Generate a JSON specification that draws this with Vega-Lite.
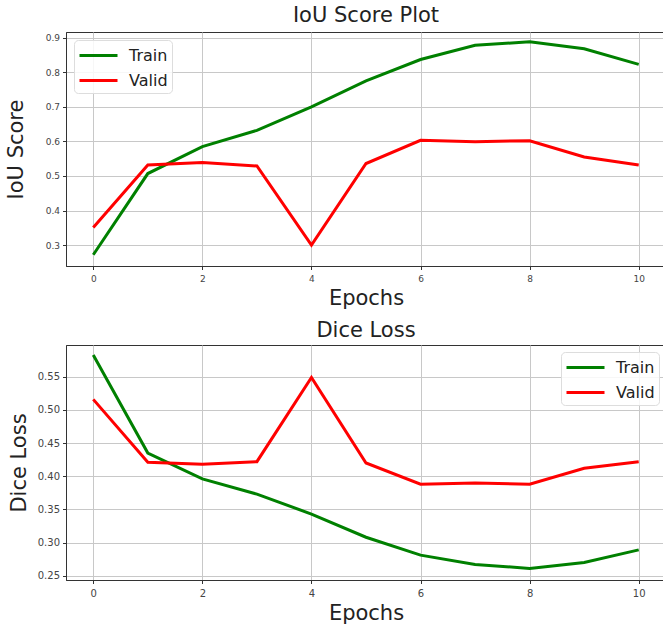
{
  "$schema": "https://vega.github.io/schema/vega-lite/v6.json",
  "padding": {"left": 4, "top": 4, "right": 0, "bottom": 0},
  "background": "white",
  "spacing": 10,
  "config": {
    "font": "DejaVu Sans",
    "view": {"stroke": "#333333", "strokeWidth": 1},
    "axis": {
      "domainColor": "#333333",
      "tickColor": "#333333",
      "tickSize": 3.5,
      "gridColor": "#c8c8c8",
      "gridWidth": 1,
      "labelColor": "#444444",
      "titleColor": "#222222",
      "titleFontWeight": "normal",
      "titleFontSize": 21,
      "labelFont": "DejaVu Sans",
      "titleFont": "DejaVu Sans"
    },
    "legend": {
      "title": null,
      "symbolType": "M-1,0H2.8",
      "symbolStrokeWidth": 3,
      "symbolSize": 400,
      "labelFontSize": 16,
      "labelColor": "#222222",
      "labelFont": "DejaVu Sans",
      "padding": 4,
      "rowPadding": 5,
      "strokeColor": "#dddddd",
      "fillColor": "rgba(255,255,255,0.85)",
      "cornerRadius": 4,
      "offset": 8,
      "labelOffset": 28
    },
    "title": {"fontSize": 21, "fontWeight": "normal", "color": "#222222", "font": "DejaVu Sans", "baseline": "alphabetic"}
  },
  "data": {
    "values": [
      {"plot": "iou", "epoch": 0, "series": "Train", "value": 0.272},
      {"plot": "iou", "epoch": 1, "series": "Train", "value": 0.507},
      {"plot": "iou", "epoch": 2, "series": "Train", "value": 0.585},
      {"plot": "iou", "epoch": 3, "series": "Train", "value": 0.632},
      {"plot": "iou", "epoch": 4, "series": "Train", "value": 0.700},
      {"plot": "iou", "epoch": 5, "series": "Train", "value": 0.775},
      {"plot": "iou", "epoch": 6, "series": "Train", "value": 0.837},
      {"plot": "iou", "epoch": 7, "series": "Train", "value": 0.878},
      {"plot": "iou", "epoch": 8, "series": "Train", "value": 0.888},
      {"plot": "iou", "epoch": 9, "series": "Train", "value": 0.868},
      {"plot": "iou", "epoch": 10, "series": "Train", "value": 0.823},
      {"plot": "iou", "epoch": 0, "series": "Valid", "value": 0.351},
      {"plot": "iou", "epoch": 1, "series": "Valid", "value": 0.532},
      {"plot": "iou", "epoch": 2, "series": "Valid", "value": 0.539},
      {"plot": "iou", "epoch": 3, "series": "Valid", "value": 0.529},
      {"plot": "iou", "epoch": 4, "series": "Valid", "value": 0.300},
      {"plot": "iou", "epoch": 5, "series": "Valid", "value": 0.536},
      {"plot": "iou", "epoch": 6, "series": "Valid", "value": 0.603},
      {"plot": "iou", "epoch": 7, "series": "Valid", "value": 0.599},
      {"plot": "iou", "epoch": 8, "series": "Valid", "value": 0.602},
      {"plot": "iou", "epoch": 9, "series": "Valid", "value": 0.555},
      {"plot": "iou", "epoch": 10, "series": "Valid", "value": 0.532},
      {"plot": "dice", "epoch": 0, "series": "Train", "value": 0.583},
      {"plot": "dice", "epoch": 1, "series": "Train", "value": 0.435},
      {"plot": "dice", "epoch": 2, "series": "Train", "value": 0.396},
      {"plot": "dice", "epoch": 3, "series": "Train", "value": 0.373},
      {"plot": "dice", "epoch": 4, "series": "Train", "value": 0.343},
      {"plot": "dice", "epoch": 5, "series": "Train", "value": 0.308},
      {"plot": "dice", "epoch": 6, "series": "Train", "value": 0.281},
      {"plot": "dice", "epoch": 7, "series": "Train", "value": 0.267},
      {"plot": "dice", "epoch": 8, "series": "Train", "value": 0.261},
      {"plot": "dice", "epoch": 9, "series": "Train", "value": 0.270},
      {"plot": "dice", "epoch": 10, "series": "Train", "value": 0.289},
      {"plot": "dice", "epoch": 0, "series": "Valid", "value": 0.516},
      {"plot": "dice", "epoch": 1, "series": "Valid", "value": 0.421},
      {"plot": "dice", "epoch": 2, "series": "Valid", "value": 0.418},
      {"plot": "dice", "epoch": 3, "series": "Valid", "value": 0.422},
      {"plot": "dice", "epoch": 4, "series": "Valid", "value": 0.549},
      {"plot": "dice", "epoch": 5, "series": "Valid", "value": 0.420},
      {"plot": "dice", "epoch": 6, "series": "Valid", "value": 0.388},
      {"plot": "dice", "epoch": 7, "series": "Valid", "value": 0.390},
      {"plot": "dice", "epoch": 8, "series": "Valid", "value": 0.388},
      {"plot": "dice", "epoch": 9, "series": "Valid", "value": 0.412},
      {"plot": "dice", "epoch": 10, "series": "Valid", "value": 0.422}
    ]
  },
  "vconcat": [
    {
      "width": 600,
      "height": 234,
      "title": {"text": "IoU Score Plot", "offset": 6},
      "transform": [{"filter": "datum.plot === 'iou'"}],
      "mark": {"type": "line", "strokeWidth": 3, "clip": true},
      "encoding": {
        "x": {
          "field": "epoch", "type": "quantitative",
          "scale": {"domain": [-0.5, 10.5], "nice": false, "zero": false},
          "axis": {"title": "Epochs", "values": [0, 2, 4, 6, 8, 10], "labelFontSize": 9, "labelPadding": 5, "titlePadding": 4, "format": "d"}
        },
        "y": {
          "field": "value", "type": "quantitative",
          "scale": {"domain": [0.2395, 0.9165], "nice": false, "zero": false},
          "axis": {"title": "IoU Score", "values": [0.3, 0.4, 0.5, 0.6, 0.7, 0.8, 0.9], "labelFontSize": 9, "labelPadding": 3, "titlePadding": 19, "format": ".1f"}
        },
        "color": {
          "field": "series", "type": "nominal",
          "scale": {"domain": ["Train", "Valid"], "range": ["#008000", "#ff0000"]},
          "legend": {"orient": "top-left"}
        }
      }
    },
    {
      "width": 600,
      "height": 235,
      "title": {"text": "Dice Loss", "offset": 4},
      "transform": [{"filter": "datum.plot === 'dice'"}],
      "mark": {"type": "line", "strokeWidth": 3, "clip": true},
      "encoding": {
        "x": {
          "field": "epoch", "type": "quantitative",
          "scale": {"domain": [-0.5, 10.5], "nice": false, "zero": false},
          "axis": {"title": "Epochs", "values": [0, 2, 4, 6, 8, 10], "labelFontSize": 10, "labelPadding": 5, "titlePadding": 4, "format": "d"}
        },
        "y": {
          "field": "value", "type": "quantitative",
          "scale": {"domain": [0.2435, 0.598], "nice": false, "zero": false},
          "axis": {"title": "Dice Loss", "values": [0.25, 0.3, 0.35, 0.4, 0.45, 0.5, 0.55], "labelFontSize": 10, "labelPadding": 3, "titlePadding": 8, "format": ".2f"}
        },
        "color": {
          "field": "series", "type": "nominal",
          "scale": {"domain": ["Train", "Valid"], "range": ["#008000", "#ff0000"]},
          "legend": {"orient": "top-right", "offset": 7}
        }
      }
    }
  ],
  "resolve": {"legend": {"color": "independent"}, "scale": {"y": "independent"}}
}
